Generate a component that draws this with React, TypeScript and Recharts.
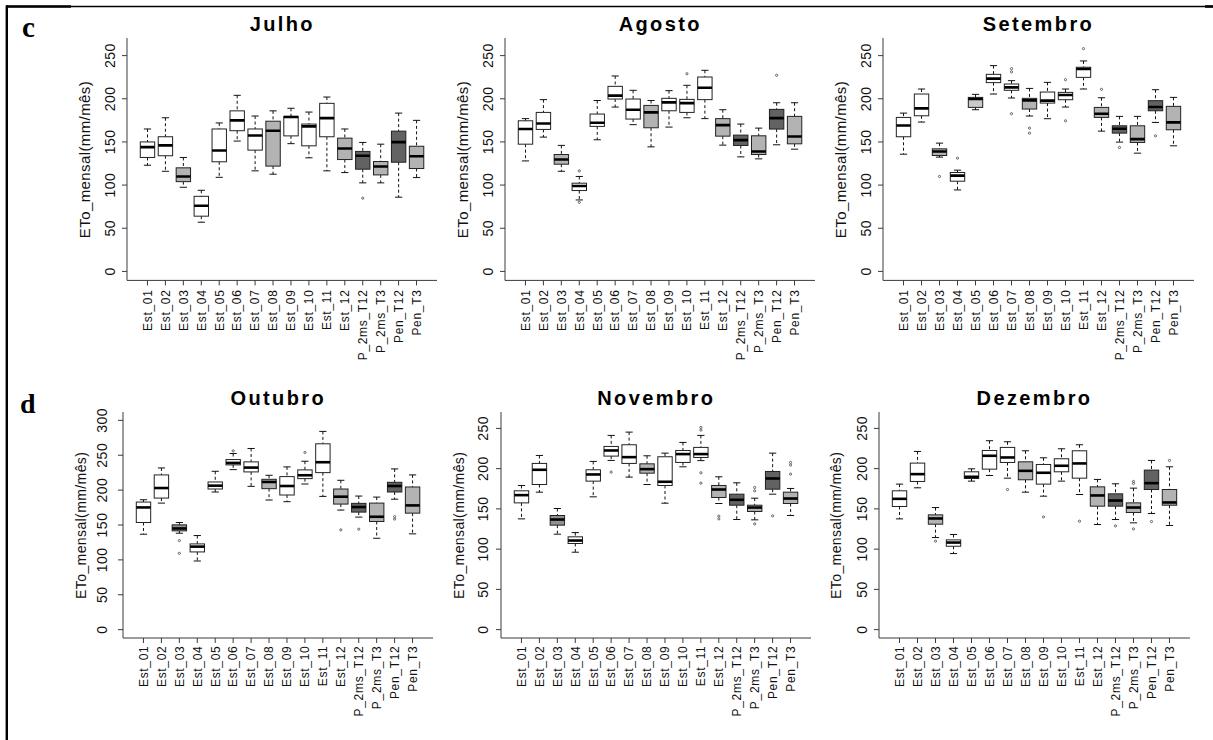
import React from 'react';
import { ComposedChart, Bar, XAxis, YAxis } from 'recharts';

// ---------- categories ----------
const stations = [
  'Est_01', 'Est_02', 'Est_03', 'Est_04', 'Est_05', 'Est_06', 'Est_07', 'Est_08',
  'Est_09', 'Est_10', 'Est_11', 'Est_12', 'P_2ms_T12', 'P_2ms_T3', 'Pen_T12', 'Pen_T3',
];

// ---------- tick labels ----------
const ticks0to250 = [0, 50, 100, 150, 200, 250];
const ticks0to300 = [0, 50, 100, 150, 200, 250, 300];

// ---------- box statistics: [lower whisker, Q1, median, Q3, upper whisker] ----------
const julhoStats = [
  [123, 132, 144, 150, 165], [116, 134, 146, 156, 178], [97.5, 104, 110, 120, 132], [57, 64, 76, 87, 94],
  [109, 127, 140, 165, 172], [151, 163, 175, 186, 204], [116.5, 140.5, 157.5, 165, 180], [112.6, 122, 163, 174, 186],
  [148, 157, 178.8, 179.6, 189], [131.6, 145.5, 168, 170.7, 184.6], [116.5, 156, 177.6, 194.7, 202], [114.5, 129.6, 142.4, 154.4, 165],
  [102.6, 118.4, 134, 139, 149.4], [102.6, 111.8, 121.5, 127.3, 147.4], [86, 126.5, 149.8, 162.5, 183.4], [108.7, 119.2, 133.5, 145, 175],
];
const julhoOutliers = [[], [], [], [], [], [], [], [], [], [], [], [], [84.8], [], [], []];

const agostoStats = [
  [128, 147.4, 165, 174.5, 177], [155.6, 164.5, 171.4, 184.2, 199], [116, 124.2, 129.6, 135.4, 146], [82.8, 93.7, 99, 102.2, 110],
  [152.5, 168, 172.2, 182.3, 198], [190.4, 199.7, 203.6, 214.4, 226.4], [170, 176.5, 187.3, 199.7, 209.8], [144.3, 166.4, 184.2, 192.3, 198],
  [167.2, 186.1, 195.8, 200.5, 209.4], [178, 184.2, 195, 199.3, 215.6], [177, 199, 212.8, 225.2, 233], [146.3, 156.7, 169.5, 177, 187.3],
  [132.7, 145.9, 152.1, 157.9, 170.7], [130.4, 135.4, 139, 157.1, 166], [146.7, 164.9, 177.6, 187.7, 195.4], [141.6, 147.8, 156.3, 179.6, 195.4],
];
const agostoOutliers = [[], [], [], [116.5, 80], [], [], [], [], [], [229], [], [], [], [], [227.2], []];

const setembroStats = [
  [135.8, 156, 169.1, 178.4, 183.4], [173, 180.3, 188.9, 205.5, 211.3], [132.4, 134.3, 138.9, 142, 148.6], [94.4, 104.5, 111, 114.6, 117.3],
  [187.3, 190, 199.7, 201.6, 205.1], [205.5, 218.7, 223.3, 228.3, 238.4], [200.9, 209.8, 213.2, 217.1, 221], [180, 188.1, 198.1, 200.5, 212],
  [176.9, 195, 197.8, 207.8, 219], [190.4, 198.9, 204.3, 207.4, 211.3], [211.3, 224.8, 234.5, 236.5, 243.8], [162.5, 178.4, 182.7, 190, 201.2],
  [149.8, 160.2, 165.2, 168.7, 179.6], [137, 149.4, 153.3, 168.7, 179.6], [172.6, 186.1, 190.4, 197.8, 210.5], [145.5, 164.1, 172.6, 191.2, 201.6],
];
const setembroOutliers = [[], [], [110], [131.2], [], [], [234.9, 231.2, 182.7], [166, 160.2], [], [222.1, 174.5], [258.1], [210.9], [143.6], [], [157.1], []];

const outubroStats = [
  [136.8, 153.6, 175.2, 182.9, 186.2], [181.4, 188.6, 203, 221.8, 231.8], [138.2, 141.6, 145, 150.2, 153.6], [98.4, 111.4, 119, 122.9, 134.9],
  [197.3, 201.6, 206.4, 211.7, 227], [229.4, 236.2, 239, 243.8, 252.5], [205.4, 226.1, 232.3, 240.5, 259.7], [185.8, 202.1, 211.7, 215.5, 221.3],
  [183.4, 193, 205.9, 219.4, 233.3], [208.8, 216.5, 221.3, 229, 241.4], [191, 225.1, 240, 266.4, 284.2], [171.4, 180, 190.6, 201.6, 214.1],
  [161.3, 168.5, 175.7, 181, 191.5], [131, 155, 161.8, 181.4, 190], [187, 197.3, 205.9, 211.2, 230.4], [137.3, 167, 178.1, 204.5, 221.8],
];
const outubroOutliers = [[], [], [127.7, 109.4], [], [], [256.3], [], [], [], [254], [], [143], [144], [], [162, 158.5], []];

const novembroStats = [
  [137.6, 157.5, 167.1, 172.5, 179.1], [170.8, 180.3, 198.6, 206.5, 216.4], [118.6, 129.8, 136.8, 141.8, 150.5], [96.2, 107, 110.7, 115.3, 120.6],
  [165, 184.5, 192.8, 198.6, 209], [210.2, 215.6, 222.6, 227.6, 241.3], [189.5, 206.5, 214.3, 229.7, 245.4], [180.3, 194.4, 199.4, 206, 216],
  [157.1, 179.1, 183.7, 214.8, 219.3], [202.3, 207.7, 218.1, 222.6, 232.6], [210, 213.9, 218.1, 226.4, 241.3], [156.7, 164.2, 174.1, 179.1, 189.9],
  [136.8, 154.6, 161.3, 168.3, 182.4], [136.4, 146.8, 151.7, 154.6, 163.3], [168.3, 174.5, 187.8, 196.5, 219.3], [141.8, 156.7, 162.9, 170.8, 175.4],
];
const novembroOutliers = [[], [], [], [], [], [195.7], [], [], [], [], [251.2, 247.9, 194.9, 182], [141, 137.6], [], [176.6, 172.5, 131.4], [141.4], [207.7, 204.4, 193.2]];

const dezembroStats = [
  [137.6, 153, 162.5, 172.5, 180.8], [176.2, 184.1, 193.2, 206.9, 221.4], [114.4, 131, 138.1, 142.6, 151.7], [94.5, 103.6, 108.2, 111.5, 118.2],
  [184.5, 187.8, 189.9, 196.1, 199.8], [191.5, 199.4, 216, 222.6, 234.7], [188.2, 207.7, 213.9, 226.4, 233.4], [170.8, 186.2, 197.3, 208.5, 222.2],
  [165.8, 180.8, 194.9, 205.2, 213.5], [184.5, 196.1, 203.6, 212.3, 224.7], [167.9, 188.2, 206.5, 222.2, 229.7], [130.6, 153.4, 166.7, 177.4, 186.6],
  [136.8, 153.4, 160.4, 168.7, 181.2], [132.7, 145.5, 151.7, 157.5, 175.8], [144.3, 174.1, 182, 198.2, 210.2], [129.4, 154.6, 158, 174.1, 202.3],
];
const dezembroOutliers = [[], [], [109.9], [], [], [], [174.1], [], [140.1], [], [134.7], [], [128.9], [184.1, 181.6, 125.2], [134.3], [210.2]];

// ---------- styling (shade per box) ----------
const julhoShades = ['w', 'w', 'l', 'w', 'w', 'w', 'w', 'l', 'w', 'w', 'w', 'l', 'd', 'l', 'd', 'l'];
const agostoShades = ['w', 'w', 'l', 'w', 'w', 'w', 'w', 'l', 'w', 'w', 'w', 'l', 'd', 'l', 'd', 'l'];
const setembroShades = ['w', 'w', 'l', 'w', 'p', 'w', 'w', 'l', 'w', 'w', 'w', 'l', 'd', 'l', 'd', 'l'];
const outubroShades = ['w', 'w', 'm', 'w', 'w', 'w', 'w', 'l', 'w', 'w', 'w', 'l', 'd', 'l', 'd', 'l'];
const novembroShades = ['w', 'w', 'm', 'w', 'w', 'w', 'w', 'l', 'w', 'w', 'w', 'l', 'd', 'l', 'd', 'l'];
const dezembroShades = ['w', 'w', 'l', 'w', 'w', 'w', 'w', 'l', 'w', 'w', 'w', 'l', 'd', 'l', 'd', 'l'];
const SHADE: Record<string, string> = { w: '#ffffff', p: '#c9c9c9', l: '#b3b3b3', m: '#909090', d: '#626262' };

const AX = '#3a3a3a';
const FONT = '"Liberation Sans", Arial, Helvetica, sans-serif';

type Plot = { left: number; top: number; width: number; height: number };
type PanelDef = {
  title: string;
  stats: number[][];
  outliers: number[][];
  shades: string[];
  domain: [number, number];
  ticks: number[];
  plot: Plot;
  yTickMargin: number;
  xTickMargin: number;
  labelSize: number;
};

const ROW1 = { top: 38.3, height: 242.4 };
const ROW2 = { top: 412.3, height: 226 };

const panels: PanelDef[] = [
  { title: 'Julho', stats: julhoStats, outliers: julhoOutliers, shades: julhoShades, domain: [-10.4, 270.4], ticks: ticks0to250,
    plot: { left: 127.3, width: 310, ...ROW1 }, yTickMargin: 7, xTickMargin: 4, labelSize: 15 },
  { title: 'Agosto', stats: agostoStats, outliers: agostoOutliers, shades: agostoShades, domain: [-10.4, 270.4], ticks: ticks0to250,
    plot: { left: 505.3, width: 310, ...ROW1 }, yTickMargin: 7, xTickMargin: 4, labelSize: 15 },
  { title: 'Setembro', stats: setembroStats, outliers: setembroOutliers, shades: setembroShades, domain: [-10.4, 270.4], ticks: ticks0to250,
    plot: { left: 883, width: 311, ...ROW1 }, yTickMargin: 7, xTickMargin: 4, labelSize: 15 },
  { title: 'Outubro', stats: outubroStats, outliers: outubroOutliers, shades: outubroShades, domain: [-12, 312], ticks: ticks0to300,
    plot: { left: 123.3, width: 310, ...ROW2 }, yTickMargin: 11, xTickMargin: 2.5, labelSize: 14 },
  { title: 'Novembro', stats: novembroStats, outliers: novembroOutliers, shades: novembroShades, domain: [-10.4, 270.4], ticks: ticks0to250,
    plot: { left: 501.3, width: 310, ...ROW2 }, yTickMargin: 8, xTickMargin: 2.5, labelSize: 14 },
  { title: 'Dezembro', stats: dezembroStats, outliers: dezembroOutliers, shades: dezembroShades, domain: [-10.4, 270.4], ticks: ticks0to250,
    plot: { left: 879, width: 311, ...ROW2 }, yTickMargin: 7, xTickMargin: 2.5, labelSize: 14 },
];

const BoxShape = (props: any) => {
  const { x, y, width, height, payload } = props;
  if (!payload || x == null || y == null) return null;
  const [vmin, vmax] = payload.range as [number, number];
  const top = Math.min(y, y + height);
  const bot = Math.max(y, y + height);
  const pix = (v: number) => (vmax === vmin ? top : bot - ((v - vmin) / (vmax - vmin)) * (bot - top));
  const cx = x + width / 2;
  const hw = 7.2;
  const cw = 3.6;
  const yLo = pix(payload.lo);
  const yQ1 = pix(payload.q1);
  const yMed = pix(payload.med);
  const yQ3 = pix(payload.q3);
  const yHi = pix(payload.hi);
  return (
    <g>
      <line x1={cx} x2={cx} y1={yHi} y2={yQ3} stroke="#111" strokeWidth={1} strokeDasharray="3 2.5" />
      <line x1={cx} x2={cx} y1={yQ1} y2={yLo} stroke="#111" strokeWidth={1} strokeDasharray="3 2.5" />
      <line x1={cx - cw} x2={cx + cw} y1={yHi} y2={yHi} stroke="#111" strokeWidth={1} />
      <line x1={cx - cw} x2={cx + cw} y1={yLo} y2={yLo} stroke="#111" strokeWidth={1} />
      <rect x={cx - hw} y={yQ3} width={hw * 2} height={Math.max(0.5, yQ1 - yQ3)} fill={SHADE[payload.shade]} stroke="#222" strokeWidth={1} />
      <line x1={cx - hw} x2={cx + hw} y1={yMed} y2={yMed} stroke="#000" strokeWidth={2.6} />
      {(payload.outs as number[]).map((o, i) => (
        <circle key={i} cx={cx} cy={pix(o)} r={1.1} fill="none" stroke="#555" strokeWidth={0.9} />
      ))}
    </g>
  );
};

const XTick = (props: any) => {
  const { x, y, payload } = props;
  return (
    <text x={x} y={y} dy="0.36em" transform={`rotate(-90 ${x} ${y})`} textAnchor="end"
      fontFamily={FONT} fontSize={12} letterSpacing={0.7} fill="#111">
      {payload.value}
    </text>
  );
};

const YTick = (props: any) => {
  const { x, y, payload } = props;
  return (
    <text x={x} y={y} transform={`rotate(-90 ${x} ${y})`} textAnchor="middle"
      fontFamily={FONT} fontSize={14} letterSpacing={0.5} fill="#111">
      {payload.value}
    </text>
  );
};

const ML = 60, MT = 5, MR = 5, MB = 80;

function Panel({ def }: { def: PanelDef }) {
  const rows = stations.map((name, i) => {
    const [lo, q1, med, q3, hi] = def.stats[i];
    const outs = def.outliers[i];
    return {
      name, lo, q1, med, q3, hi, outs, shade: def.shades[i],
      range: [Math.min(lo, ...outs), Math.max(hi, ...outs)],
    };
  });
  const p = def.plot;
  const band = p.width / 17.28;
  const pad = band * 0.64;
  return (
    <div style={{ position: 'absolute', left: p.left - ML, top: p.top - MT }}>
      <ComposedChart width={p.width + ML + MR} height={p.height + MT + MB} data={rows}
        margin={{ top: MT, right: MR, bottom: 0, left: 0 }}>
        <XAxis dataKey="name" type="category" interval={0} height={MB} tickSize={5} tickMargin={def.xTickMargin}
          padding={{ left: pad, right: pad }} tick={<XTick />}
          axisLine={{ stroke: AX, strokeWidth: 1 }} tickLine={{ stroke: AX }} />
        <XAxis xAxisId="top" orientation="top" dataKey="name" type="category" height={0} tick={false} tickLine={false}
          axisLine={{ stroke: AX, strokeWidth: 1 }} />
        <YAxis type="number" domain={def.domain} ticks={def.ticks} allowDataOverflow interval={0} width={ML}
          tickSize={5} tickMargin={def.yTickMargin} tick={<YTick />}
          axisLine={{ stroke: AX, strokeWidth: 1 }} tickLine={{ stroke: AX }} />
        <YAxis yAxisId="right" orientation="right" type="number" domain={def.domain} allowDataOverflow width={0}
          tick={false} tickLine={false} axisLine={{ stroke: AX, strokeWidth: 1 }} />
        <Bar dataKey="range" barSize={14} isAnimationActive={false} shape={(bp: any) => <BoxShape {...bp} />} />
      </ComposedChart>
    </div>
  );
}

export default function App() {
  return (
    <div style={{ position: 'absolute', left: 0, top: 0, width: 1213, height: 740, background: '#fff', overflow: 'hidden' }}>
      {panels.map((d) => (
        <Panel key={d.title} def={d} />
      ))}
      <svg width={1213} height={740} style={{ position: 'absolute', left: 0, top: 0, pointerEvents: 'none' }}>
        <line x1={6} x2={1213} y1={6.5} y2={6.5} stroke="#000" strokeWidth={1.6} />
        <line x1={6} x2={71} y1={6.5} y2={6.5} stroke="#000" strokeWidth={2.6} />
        <line x1={1205} x2={1213} y1={6.5} y2={6.5} stroke="#000" strokeWidth={2.6} />
        <line x1={6.8} x2={6.8} y1={5.5} y2={740} stroke="#000" strokeWidth={2.4} />
        <text x={22} y={37} fontFamily='"Liberation Serif", "Times New Roman", serif' fontWeight="bold" fontSize={29}>c</text>
        <text x={20} y={413} fontFamily='"Liberation Serif", "Times New Roman", serif' fontWeight="bold" fontSize={28}>d</text>
        {panels.map((d) => {
          const cx = d.plot.left + d.plot.width / 2;
          const ty = d.plot.top - 7.5;
          const lx = d.plot.left - 37.5;
          const ly = d.plot.top + d.plot.height / 2;
          return (
            <g key={d.title}>
              <text x={cx} y={ty} textAnchor="middle" fontFamily={FONT} fontWeight="bold" fontSize={20}
                letterSpacing={2.4} fill="#000">{d.title}</text>
              <text x={lx} y={ly} transform={`rotate(-90 ${lx} ${ly})`} textAnchor="middle" fontFamily={FONT}
                fontSize={d.labelSize} letterSpacing={0.4} fill="#111">ETo_mensal(mm/mês)</text>
            </g>
          );
        })}
      </svg>
    </div>
  );
}
